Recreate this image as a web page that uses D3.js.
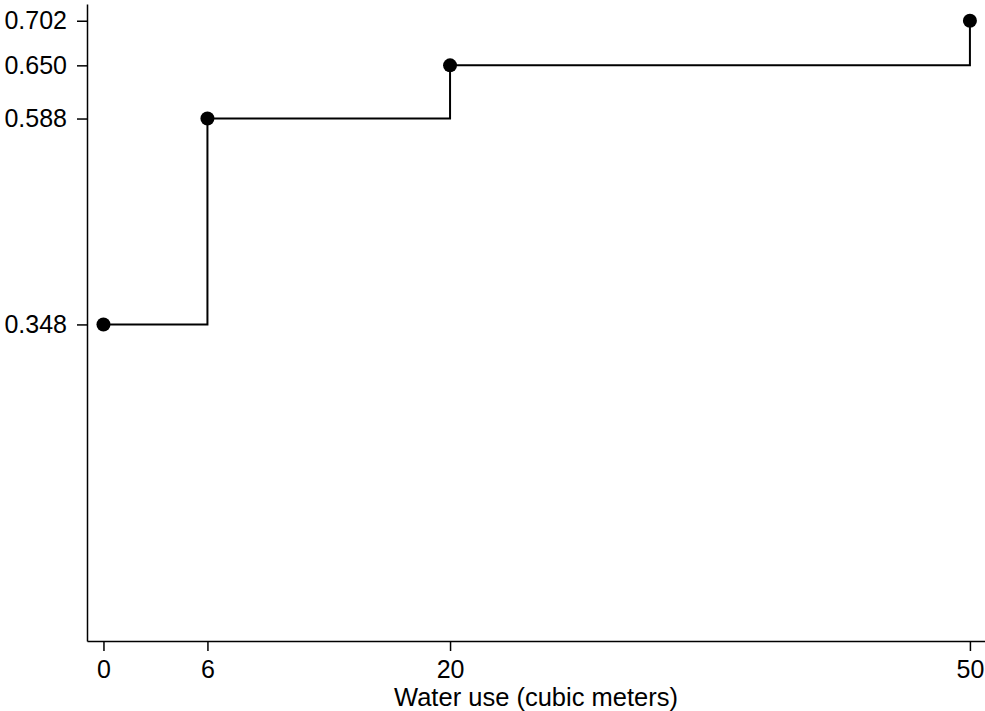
<!DOCTYPE html>
<html>
<head>
<meta charset="utf-8">
<script src="https://cdn.jsdelivr.net/npm/d3@7"></script>
<style>
  body { margin: 0; background: #fff; }
  text { font-family: "Liberation Sans", Arial, Helvetica, sans-serif; fill: #000; }
</style>
</head>
<body>
<div id="chart"></div>
<script>
// data
var waterUse = [0, 6, 20, 50];
var shares = [0.348, 0.588, 0.650, 0.702];
var xTicks = [0, 6, 20, 50];
var yTicks = [0.348, 0.588, 0.650, 0.702];
var xTitle = "Water use (cubic meters)";

var width = 985, height = 711;

var svg = d3.select("#chart")
    .append("svg")
    .attr("width", width)
    .attr("height", height);

// scales (domain padded like the original plot region)
var x = d3.scaleLinear()
    .domain([-0.95, 50.87])
    .range([87, 985]);
var y = d3.scaleLinear()
    .domain([-0.021, 0.7215])
    .range([641, 4]);

// x axis
var xAxis = svg.append("g")
    .attr("transform", "translate(0," + y.range()[0] + ")")
    .call(d3.axisBottom(x).tickValues(xTicks).tickSize(10).tickSizeOuter(0).tickPadding(9)
        .tickFormat(d3.format("d")));
xAxis.selectAll("text").style("font-size", "25px");

// y axis
var yAxis = svg.append("g")
    .attr("transform", "translate(" + x.range()[0] + ",0)")
    .call(d3.axisLeft(y).tickValues(yTicks).tickSize(10).tickSizeOuter(0).tickPadding(10)
        .tickFormat(d3.format(".3f")));
yAxis.selectAll("text").style("font-size", "25px");

svg.selectAll(".domain, .tick line")
    .attr("stroke", "#000")
    .attr("stroke-width", 1.5);

// axis title
svg.append("text")
    .attr("x", (x.range()[0] + x.range()[1]) / 2)
    .attr("y", 706)
    .attr("text-anchor", "middle")
    .style("font-size", "25.5px")
    .text(xTitle);

var points = waterUse.map(function (d, i) { return [d, shares[i]]; });

// step line
var line = d3.line()
    .x(function (d) { return x(d[0]); })
    .y(function (d) { return y(d[1]); })
    .curve(d3.curveStepAfter);

svg.append("path")
    .datum(points)
    .attr("d", line)
    .attr("fill", "none")
    .attr("stroke", "#000")
    .attr("stroke-width", 2);

// markers
svg.selectAll("circle")
    .data(points)
    .enter()
    .append("circle")
    .attr("cx", function (d) { return x(d[0]); })
    .attr("cy", function (d) { return y(d[1]); })
    .attr("r", 7)
    .attr("fill", "#000");
</script>
</body>
</html>
